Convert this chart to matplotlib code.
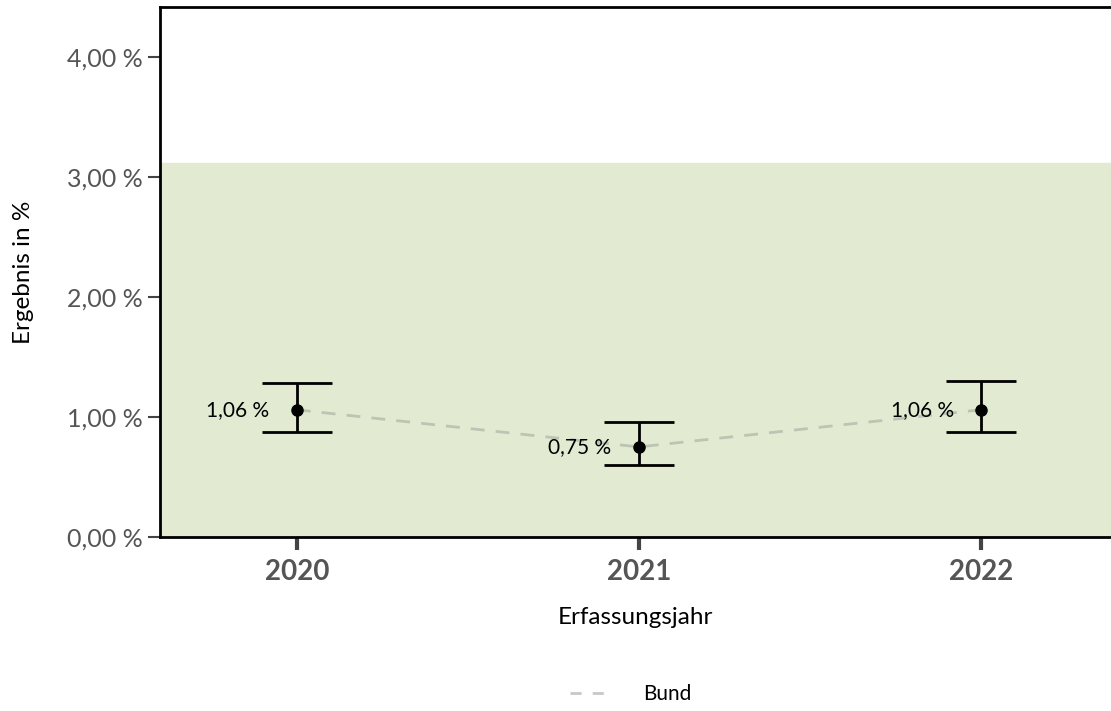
import matplotlib.pyplot as plt

plt.rcParams['font.family'] = ['Lato', 'DejaVu Sans']

years = ['2020', '2021', '2022']
werte = [1.06, 0.75, 1.06]
ci_unten = [0.875, 0.60, 0.875]
ci_oben = [1.28, 0.955, 1.30]
labels = ['1,06 %', '0,75 %', '1,06 %']
referenz_oben = 3.12
y_ticks = [0, 1, 2, 3, 4]
y_ticklabels = ['0,00 %', '1,00 %', '2,00 %', '3,00 %', '4,00 %']

fig = plt.figure(figsize=(11.11, 7.11), dpi=100)
ax = fig.add_axes([0.144, 0.245, 0.856, 0.745])

x = list(range(len(years)))
ax.axhspan(0, referenz_oben, color='#e2ebd1', zorder=0)
ax.plot(x, werte, color='#bcc4b4', ls=(0, (5, 4)), lw=2, zorder=1)
ax.errorbar(x, werte, yerr=[[w - u for w, u in zip(werte, ci_unten)],
                            [o - w for w, o in zip(werte, ci_oben)]],
            fmt='o', color='black', ms=8, elinewidth=2, capsize=25, capthick=2, zorder=3)
for xi, w, lab in zip(x, werte, labels):
    ax.text(xi - 0.08, w, lab, ha='right', va='center', fontsize=15, color='black', zorder=4)

ax.set_xlim(-0.4, 2.38)
ax.set_ylim(0, 4.42)
ax.set_yticks(y_ticks)
ax.set_yticklabels(y_ticklabels, fontsize=18, color='#555555')
ax.set_xticks(x)
ax.set_xticklabels(years, fontsize=20, fontweight='bold', color='#555555')
ax.tick_params(axis='y', length=8.5, width=1.5, color='#444444', pad=4)
ax.tick_params(axis='x', length=9, width=3, color='#444444', pad=7)
ax.set_xlabel('Erfassungsjahr', fontsize=17.5, labelpad=16)
ax.set_ylabel('Ergebnis in %', fontsize=17.5, labelpad=24)

for s in ['top', 'left', 'bottom']:
    ax.spines[s].set_linewidth(2)
ax.spines['right'].set_visible(False)

handle, = ax.plot([], [], color='#c8c8c8', ls=(0, (4, 4)), lw=2)
fig.legend([handle], ['Bund'], loc='center', bbox_to_anchor=(0.568, 0.024),
           frameon=False, fontsize=15, handlelength=1.6, handletextpad=1.9)

fig.savefig('out.png', dpi=100)
